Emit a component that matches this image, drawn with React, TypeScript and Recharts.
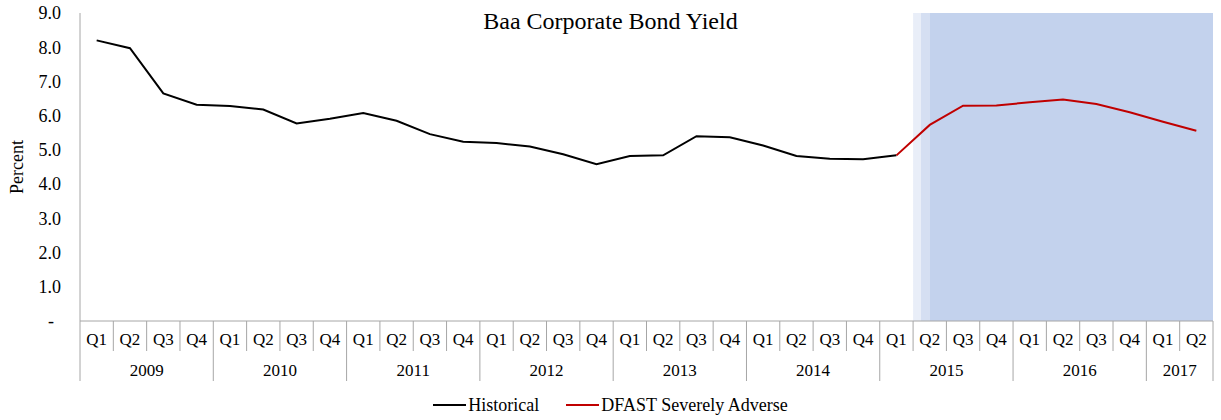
import { ComposedChart, Line, XAxis, YAxis, ReferenceArea, Legend } from "recharts"

// quarterly periods shown on the axis
const years = ["2009", "2010", "2011", "2012", "2013", "2014", "2015", "2016", "2017"]
const quartersInYear = [4, 4, 4, 4, 4, 4, 4, 4, 2]
const quarterNames = ["Q1", "Q2", "Q3", "Q4"]

// Baa yield, percent (Q1 2009 .. Q1 2015)
const historical = [
  8.2, 7.97, 6.65, 6.32, 6.28, 6.18, 5.77, 5.91, 6.08, 5.85, 5.46, 5.24, 5.2,
  5.1, 4.87, 4.58, 4.82, 4.84, 5.4, 5.37, 5.13, 4.82, 4.74, 4.73, 4.84,
]
// scenario path (Q1 2015 .. Q2 2017)
const severelyAdverse = [4.84, 5.73, 6.29, 6.3, 6.39, 6.47, 6.34, 6.1, 5.82, 5.56]
const scenarioStart = "2015 Q1"
const shadeFrom = "2015 Q2"

const yTicks = [0, 1, 2, 3, 4, 5, 6, 7, 8, 9]
const seriesOrder = ["historical", "scenario"]

const periods = years.flatMap((y, i) =>
  quarterNames.slice(0, quartersInYear[i]).map(q => ({ year: y, quarter: q, key: `${y} ${q}` }))
)
const startIdx = periods.findIndex(p => p.key === scenarioStart)
const data = periods.map((p, i) => ({
  ...p,
  historical: i < historical.length ? historical[i] : null,
  scenario: i >= startIdx && i - startIdx < severelyAdverse.length ? severelyAdverse[i - startIdx] : null,
}))

const FONT = '"Liberation Serif", "Times New Roman", serif'
const GRID = "#a6a6a6"
// plot spans x 80..1213, one band per quarter
const HALF_BAND = (1213 - 80) / data.length / 2

function QuarterTick(props: any) {
  const { x, y, payload } = props
  const i = payload.index
  const p = data[i]
  const half = payload.offset > 0 ? payload.offset : HALF_BAND
  const yearStart = p.quarter === "Q1"
  const count = data.filter(d => d.year === p.year).length
  const isLast = i === data.length - 1
  return (
    <g>
      <line x1={x - half} x2={x - half} y1={y} y2={y + (yearStart ? 60 : 30)} stroke={GRID} strokeWidth={1} />
      {isLast && <line x1={x + half} x2={x + half} y1={y} y2={y + 60} stroke={GRID} strokeWidth={1} />}
      <text x={x} y={y + 24} textAnchor="middle" fontFamily={FONT} fontSize={17} fill="#000">
        {p.quarter}
      </text>
      {yearStart && (
        <text x={x + (count - 1) * half} y={y + 55} textAnchor="middle" fontFamily={FONT} fontSize={17} fill="#000">
          {p.year}
        </text>
      )}
    </g>
  )
}

function PercentTick(props: any) {
  const { x, y, payload } = props
  const v = payload.value
  return (
    <text x={v === 0 ? x - 7 : x} y={y} dy="0.35em" textAnchor="end" fontFamily={FONT} fontSize={18} fill="#000">
      {v === 0 ? "-" : v.toFixed(1)}
    </text>
  )
}

function PercentLabel(props: any) {
  const vb = props.viewBox || { x: 0, y: 13, width: 80, height: 308 }
  const cx = vb.x + 17
  const cy = vb.y + vb.height / 2
  return (
    <text x={cx} y={cy} dy="0.35em" textAnchor="middle" transform={`rotate(-90, ${cx}, ${cy})`} fontFamily={FONT} fontSize={18} fill="#000">
      Percent
    </text>
  )
}

function LegendContent(props: any) {
  const items = [...(props.payload || [])].sort(
    (a: any, b: any) => seriesOrder.indexOf(a.dataKey) - seriesOrder.indexOf(b.dataKey)
  )
  return (
    <div style={{ display: "flex", justifyContent: "center", alignItems: "center", gap: 27, height: 20, fontFamily: FONT, fontSize: 18, color: "#000" }}>
      {items.map((it: any) => (
        <div key={it.value} style={{ display: "flex", alignItems: "center" }}>
          <span style={{ display: "inline-block", width: 33, height: 2, background: it.color, marginRight: 2 }} />
          {it.value}
        </div>
      ))}
    </div>
  )
}

export default function App() {
  return (
    <div style={{ position: "absolute", left: 0, top: 0, width: 1221, height: 420, background: "#fff" }}>
      <ComposedChart width={1221} height={420} data={data} margin={{ top: 13, right: 8, left: 0, bottom: 19 }}>
        <defs>
          <linearGradient id="forecastShade" x1="0" y1="0" x2="1" y2="0">
            <stop offset="0" stopColor="#e9eef8" />
            <stop offset="0.027" stopColor="#e9eef8" />
            <stop offset="0.027" stopColor="#d5dff2" />
            <stop offset="0.056" stopColor="#d5dff2" />
            <stop offset="0.056" stopColor="#c3d2ed" />
            <stop offset="1" stopColor="#c3d2ed" />
          </linearGradient>
        </defs>
        <ReferenceArea x1={shadeFrom} x2={data[data.length - 1].key} fill="url(#forecastShade)" fillOpacity={1} stroke="none" ifOverflow="visible" />
        <XAxis
          dataKey="key"
          scale="band"
          interval={0}
          height={60}
          tickLine={false}
          tickSize={0}
          tickMargin={0}
          axisLine={{ stroke: GRID }}
          tick={<QuarterTick />}
        />
        <YAxis
          width={80}
          domain={[0, 9]}
          ticks={yTicks}
          interval={0}
          tickLine={false}
          tickSize={0}
          tickMargin={19}
          axisLine={{ stroke: GRID }}
          tick={<PercentTick />}
          label={<PercentLabel />}
        />
        <Legend
          content={<LegendContent />}
          verticalAlign="bottom"
          itemSorter="dataKey"
          wrapperStyle={{ left: 0, width: 1221, top: 395, bottom: "auto" }}
        />
        <Line dataKey="historical" name="Historical" stroke="#000" strokeWidth={2} dot={false} activeDot={false} connectNulls={false} isAnimationActive={false} />
        <Line dataKey="scenario" name="DFAST Severely Adverse" stroke="#c00000" strokeWidth={2} dot={false} activeDot={false} connectNulls={false} isAnimationActive={false} />
      </ComposedChart>
      <div style={{ position: "absolute", left: 0, top: 9, width: 1221, textAlign: "center", fontFamily: FONT, fontSize: 24, lineHeight: "24px", color: "#000", pointerEvents: "none" }}>
        Baa Corporate Bond Yield
      </div>
    </div>
  )
}
